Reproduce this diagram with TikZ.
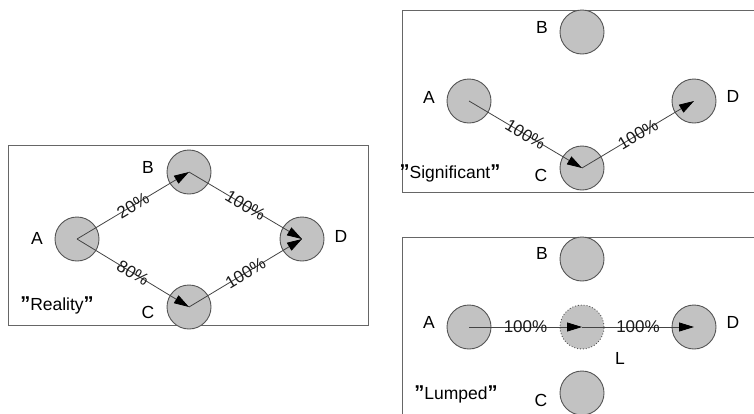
\documentclass[tikz,border=0pt]{standalone}
\usepackage{fontspec}
\setmainfont{Liberation Sans}
\usetikzlibrary{arrows.meta}
\definecolor{cfill}{HTML}{C2C2C2}
\definecolor{cline}{HTML}{555555}
\definecolor{eline}{HTML}{444444}
\definecolor{boxline}{HTML}{666666}
\tikzset{
  ball/.style={circle, draw=cline, fill=cfill, line width=0.9pt, minimum size=44pt, inner sep=0pt},
  lumpball/.style={ball, dotted},
  lbl/.style={font=\fontsize{17.5}{19}\selectfont, text=black, inner sep=0pt},
  pct/.style={font=\fontsize{17}{19}\selectfont, text=black!90, inner sep=0pt},
  flow/.style={draw=eline, line width=0.8pt, -{Triangle[length=15pt,width=9pt,black]}},
  panel/.style={draw=boxline, line width=0.9pt},
}
\newcommand{\bq}{\textbf{\fontsize{20}{20}\selectfont ”}}
\begin{document}
\begin{tikzpicture}[x=1pt,y=-1pt]
\useasboundingbox (0,0) rectangle (754,413);
\clip (0,0) rectangle (754,413);
% ---------- Reality panel
\draw[panel] (8,145) rectangle (368,325);
\node[ball] (rA) at (77,239) {};
\node[ball] (rB) at (189,172) {};
\node[ball] (rC) at (189,307) {};
\node[ball] (rD) at (302,239) {};
\node[lbl] (rAl) at (37,238) {A};
\node[lbl] (rBl) at (148,167) {B};
\node[lbl] (rCl) at (148,312) {C};
\node[lbl] (rDl) at (341,236) {D};
\node[lbl] (rT) at (57,305) {\bq Reality\bq};
\draw[flow] (rA.center) -- node[pct, sloped] {20\%} (rB.center);
\draw[flow] (rA.center) -- node[pct, sloped] {80\%} (rC.center);
\draw[flow] (rB.center) -- node[pct, sloped] {100\%} (rD.center);
\draw[flow] (rC.center) -- node[pct, sloped] {100\%} (rD.center);
% ---------- Significant panel
\draw[panel] (402,10) rectangle (770,192);
\node[ball] (sB) at (582,32) {};
\node[ball] (sA) at (469,101) {};
\node[ball] (sD) at (694,101) {};
\node[ball] (sC) at (582,168) {};
\node[lbl] (sBl) at (542,27) {B};
\node[lbl] (sAl) at (429,97) {A};
\node[lbl] (sDl) at (733,96) {D};
\node[lbl] (sCl) at (541,175) {C};
\node[lbl] (sT) at (450,173) {\bq Significant\bq};
\draw[flow] (sA.center) -- node[pct, sloped] {100\%} (sC.center);
\draw[flow] (sC.center) -- node[pct, sloped] {100\%} (sD.center);
% ---------- Lumped panel
\draw[panel] (402,237) rectangle (770,430);
\node[ball] (lB) at (582,259) {};
\node[ball] (lA) at (469,327) {};
\node[lumpball] (lL) at (582,327) {};
\node[ball] (lD) at (694,327) {};
\node[ball] (lC) at (582,393) {};
\node[lbl] (lBl) at (542,253) {B};
\node[lbl] (lAl) at (429,322) {A};
\node[lbl] (lDl) at (733,322) {D};
\node[lbl] (lLl) at (620,358) {L};
\node[lbl] (lCl) at (541,400) {C};
\node[lbl] (lT) at (456,394) {\bq Lumped\bq};
\draw[flow] (lA.center) -- node[pct] {100\%} (lL.center);
\draw[flow] (lL.center) -- node[pct] {100\%} (lD.center);
\end{tikzpicture}
\end{document}
